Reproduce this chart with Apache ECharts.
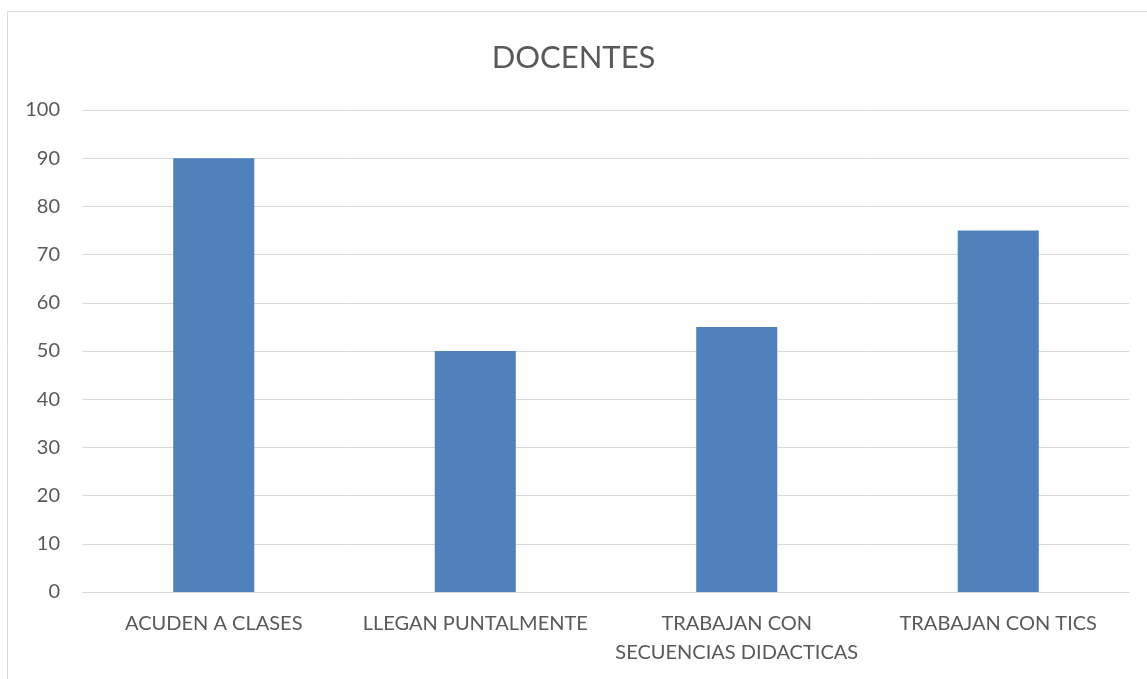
<!DOCTYPE html>
<html>
<head>
<meta charset="utf-8">
<script src="https://cdn.jsdelivr.net/npm/echarts@6/dist/echarts.min.js"></script>
<style>
  html, body { margin: 0; padding: 0; background: #fff; }
  #chart { width: 1147px; height: 679px; }
</style>
</head>
<body>
<div id="chart"></div>
<script>
var categories = ['ACUDEN A CLASES', 'LLEGAN PUNTALMENTE', 'TRABAJAN CON\nSECUENCIAS DIDACTICAS', 'TRABAJAN CON TICS']
var values = [90, 50, 55, 75]

var myChart = echarts.init(document.getElementById('chart'))

myChart.setOption({
  animation: false,
  textStyle: { fontFamily: 'Lato' },
  graphic: [
    {
      type: 'rect',
      shape: { x: 7.5, y: 11.5, width: 1200, height: 700 },
      style: { fill: 'none', stroke: '#d9d9d9', lineWidth: 1 }
    }
  ],
  title: {
    text: 'DOCENTES',
    left: 'center',
    top: 37,
    textStyle: { fontSize: 31, fontWeight: 'normal', color: '#595959', fontFamily: 'Lato' }
  },
  grid: { left: 83, right: 18, top: 110, bottom: 87 },
  xAxis: {
    type: 'category',
    data: categories,
    axisLine: { lineStyle: { color: '#d9d9d9', width: 1 } },
    axisTick: { show: false },
    axisLabel: { color: '#595959', fontSize: 20, margin: 17, lineHeight: 29, interval: 0 }
  },
  yAxis: {
    type: 'value',
    min: 0,
    max: 100,
    interval: 10,
    axisLine: { show: false },
    axisTick: { show: false },
    splitLine: { lineStyle: { color: '#d9d9d9', width: 1 } },
    axisLabel: { color: '#595959', fontSize: 20, margin: 23 }
  },
  series: [
    {
      type: 'bar',
      data: values,
      barWidth: '31%',
      itemStyle: { color: '#4f81bd' }
    }
  ]
})
</script>
</body>
</html>
